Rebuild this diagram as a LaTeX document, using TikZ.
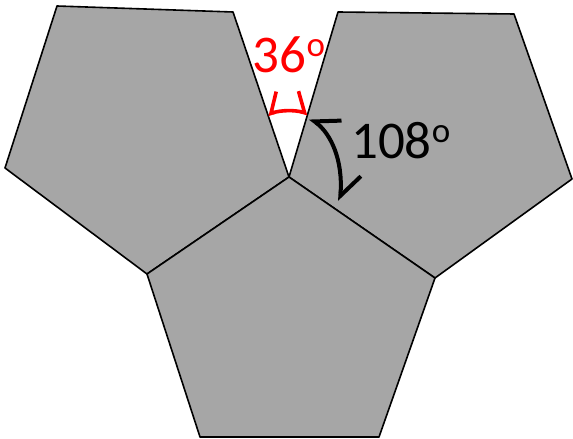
\documentclass[tikz,border=0pt]{standalone}
\usepackage{fontspec}
\setmainfont{Carlito}
\usetikzlibrary{arrows.meta}
\definecolor{tilegray}{HTML}{A6A6A6}
\definecolor{anglered}{HTML}{FF0000}
\newcommand{\degmark}{\raisebox{16pt}{\fontsize{35}{40}\selectfont o}}

\begin{document}
\begin{tikzpicture}[x=1pt,y=1pt, line join=round,
    tile/.style={fill=tilegray, draw=black, line width=1.6pt},
    marktext/.style={font=\fontsize{53}{60}\selectfont, inner sep=0pt, anchor=base}]
  \useasboundingbox (0,0) rectangle (573,439);
  % corner shared by the three tiles
  \coordinate (hub) at (289,262);
  \coordinate (lw) at (147,165);
  \coordinate (re) at (435,161);
  % left tile
  \draw[tile] (57,433) -- (233,427) -- (hub) -- (lw) -- (5,271) -- cycle;
  % right tile
  \draw[tile] (338,427) -- (514,425) -- (572,260) -- (re) -- (hub) -- cycle;
  % bottom tile, drawn last
  \draw[tile] (hub) -- (re) -- (379,2) -- (200,2) -- (lw) -- cycle;
  % 36 degree gap marker
  \draw[anglered, line width=3.6pt,
        {Straight Barb[right,length=12pt,width=38pt]}-{Straight Barb[left,length=12pt,width=38pt]}]
    (hub) ++(108.7:66) arc[start angle=108.7, end angle=73.5, radius=66];
  \node[marktext, text=anglered] (deg36) at (289,366) {36\degmark};
  % 108 degree corner marker
  \coordinate (turnlow) at (340,238);
  \coordinate (turnup) at (310,321);
  \draw[line width=4pt,
        {Straight Barb[left,length=21pt,width=38pt]}-{Straight Barb[right,length=21pt,width=34pt]}]
    (turnlow) .. controls (343,279) and (331,305) .. (turnup);
  \node[marktext, anchor=base west] (deg108) at (351,280) {108\degmark};
\end{tikzpicture}
\end{document}
